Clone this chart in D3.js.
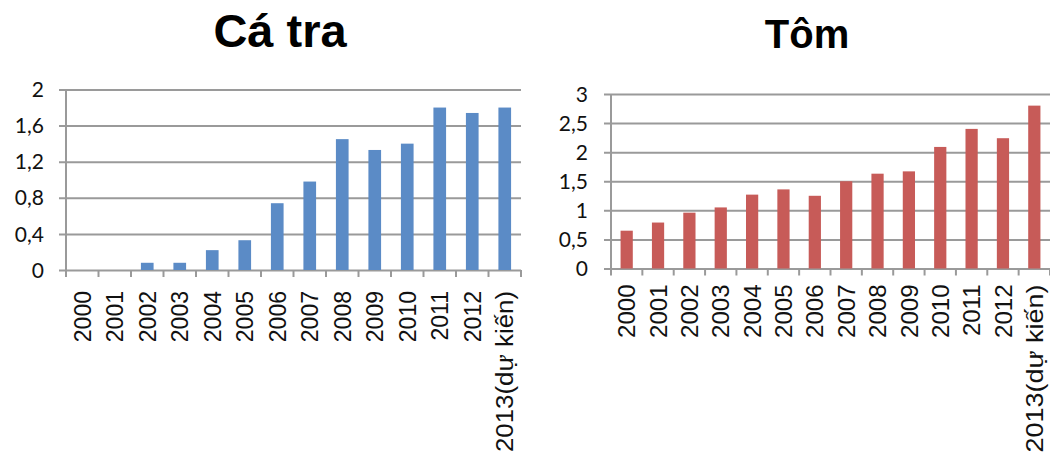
<!DOCTYPE html>
<meta charset="utf-8">
<head>
    <meta charset="utf-8">
    <title>Cá tra - Tôm</title>
    <script src="https://d3js.org/d3.v7.min.js" charset="utf-8"></script>
    <style>
        html, body {
            margin: 0;
            padding: 0;
            background: #fff;
        }
        .title {
            font-family: "Liberation Sans", Arial, sans-serif;
            font-weight: bold;
            fill: #000;
        }
        .y-axis text {
            font-family: Lato, "Open Sans", sans-serif;
            fill: #111;
        }
        .x-axis text {
            font-family: "Liberation Sans", Arial, sans-serif;
            fill: #111;
        }
        .grid line, .frame line {
            stroke: #9a9a9a;
            stroke-width: 2px;
        }
    </style>
</head>

<body>
<div id="chart"></div>

<script>

/****************************
1. データ
****************************/

var years = ["2000", "2001", "2002", "2003", "2004", "2005", "2006",
             "2007", "2008", "2009", "2010", "2011", "2012", "2013(dự kiến)"];

// Cá tra
var caTraValues = [0, 0, 0.08, 0.08, 0.22, 0.33, 0.74, 0.98, 1.45, 1.33, 1.4, 1.8, 1.74, 1.8];
var caTraTicks = [0, 0.4, 0.8, 1.2, 1.6, 2];

// Tôm
var tomValues = [0.65, 0.79, 0.96, 1.05, 1.27, 1.36, 1.25, 1.5, 1.63, 1.67, 2.09, 2.4, 2.24, 2.8];
var tomTicks = [0, 0.5, 1, 1.5, 2, 2.5, 3];


/****************************
2. svg コンテナ
****************************/

var W = 1050, H = 456;

var svg = d3.select("#chart")
    .append("svg")
    .attr("width", W)
    .attr("height", H);

// 小数点はカンマ
var fmt = d => String(d).replace(".", ",");


/****************************
3. 描画関数
****************************/

function drawChart(opt) {

    var g = svg.append("g");

    var x = d3.scaleBand()
        .domain(years)
        .range([opt.left, opt.right])
        .paddingInner(0.61)
        .paddingOuter(0.305);

    var y = d3.scaleLinear()
        .domain([0, d3.max(opt.ticks)])
        .range([opt.bottom, opt.top]);

    // gridlines + y labels
    var yAxis = g.append("g")
        .attr("class", "y-axis grid")
        .attr("transform", "translate(" + opt.left + ",0)")
        .call(d3.axisLeft(y)
            .tickValues(opt.ticks)
            .tickFormat(fmt)
            .tickSizeInner(-(opt.right - opt.left))
            .tickSizeOuter(0)
            .tickPadding(opt.yPad));
    yAxis.select(".domain").remove();
    yAxis.selectAll(".tick line").attr("x1", -7);
    yAxis.selectAll(".tick text")
        .style("font-size", opt.yFont + "px")
        .attr("dy", "0.34em");

    // bars
    g.selectAll(".bar")
        .data(opt.values)
        .enter()
        .append("rect")
        .attr("class", "bar")
        .attr("x", (d, i) => x(years[i]))
        .attr("width", x.bandwidth())
        .attr("y", d => y(d))
        .attr("height", d => y(0) - y(d))
        .attr("fill", opt.color);

    // frame: vertical axis + category ticks
    var frame = g.append("g").attr("class", "frame");
    frame.append("line")
        .attr("x1", opt.left).attr("x2", opt.left)
        .attr("y1", y(d3.max(opt.ticks))).attr("y2", y(0));
    var edges = years.map(d => x(d) - x.step() * x.paddingInner() / 2);
    edges.push(opt.right);
    frame.selectAll(".cat-tick")
        .data(edges)
        .enter()
        .append("line")
        .attr("x1", d => d).attr("x2", d => d)
        .attr("y1", y(0)).attr("y2", y(0) + 7);

    // x labels (rotated)
    var xAxis = g.append("g")
        .attr("class", "x-axis")
        .attr("transform", "translate(0," + opt.bottom + ")")
        .call(d3.axisBottom(x).tickSize(0));
    xAxis.select(".domain").remove();
    xAxis.selectAll(".tick text")
        .attr("transform", "rotate(-90)")
        .attr("x", -opt.xPad)
        .attr("y", 0)
        .attr("dy", "0.36em")
        .style("text-anchor", "end")
        .style("font-size", opt.xFont + "px");
    // 長いラベル (dự kiến) は参照画像で横に伸びている
    xAxis.selectAll(".tick text")
        .filter(d => d.length > 4)
        .attr("textLength", opt.longLen)
        .attr("lengthAdjust", "spacingAndGlyphs");

    // title
    svg.append("text")
        .attr("class", "title")
        .attr("x", opt.titleX)
        .attr("y", opt.titleY)
        .attr("text-anchor", "middle")
        .style("font-size", opt.titleFont + "px")
        .text(opt.title);
}


/****************************
4. 描画の実行
****************************/

drawChart({
    title: "Cá tra", titleX: 280, titleY: 47, titleFont: 47,
    values: caTraValues, ticks: caTraTicks, color: "#5b8bc6",
    left: 66, right: 521, top: 89.5, bottom: 270,
    yPad: 22, yFont: 21, xPad: 21, xFont: 23, longLen: 161
});

drawChart({
    title: "Tôm", titleX: 807, titleY: 48, titleFont: 40,
    values: tomValues, ticks: tomTicks, color: "#c75b58",
    left: 611, right: 1050, top: 94, bottom: 268.5,
    yPad: 23, yFont: 21, xPad: 16, xFont: 24, longLen: 168
});

</script>
</html>
